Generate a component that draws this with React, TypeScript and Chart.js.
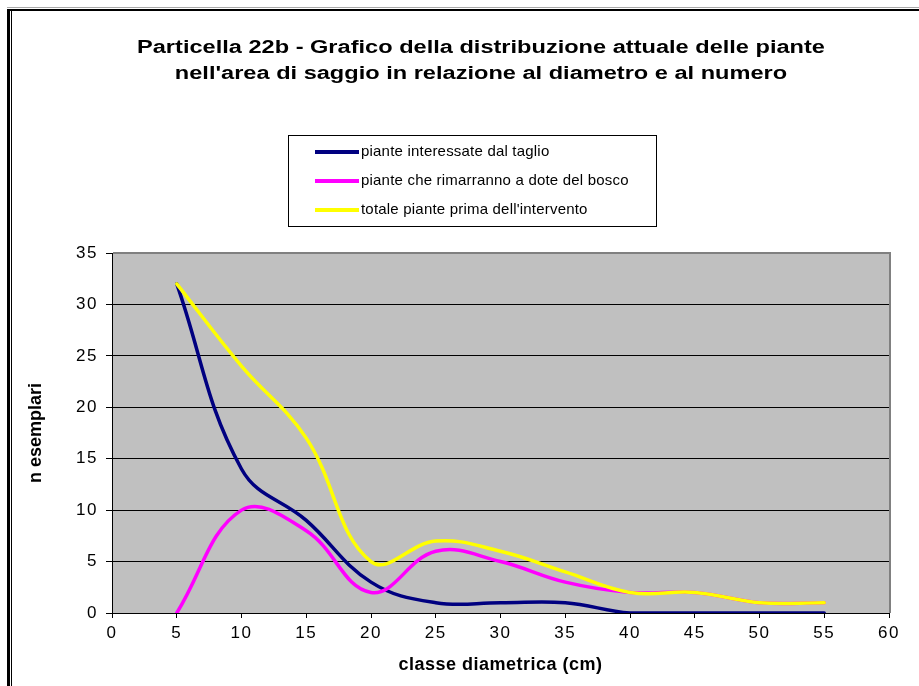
import React, { useEffect, useRef } from "react";
import { Chart, registerables } from "chart.js";

Chart.register(...registerables);

// ---- data ----
const titleLines = [
  "Particella 22b - Grafico della distribuzione attuale delle piante",
  "nell'area di saggio in relazione al diametro e al numero",
];
const xAxisTitle = "classe diametrica (cm)";
const yAxisTitle = "n esemplari";
const diameterClasses = [5, 10, 15, 20, 25, 30, 35, 40, 45, 50, 55];
const pianteTaglio = [32, 14, 9, 3, 1, 1, 1, 0, 0, 0, 0];
const pianteRimanenti = [0, 10, 8, 2, 6, 5, 3, 2, 2, 1, 1];
const pianteTotali = [32, 24, 17, 5, 7, 6, 4, 2, 2, 1, 1];
const seriesNames = [
  "piante interessate dal taglio",
  "piante che rimarranno a dote del bosco",
  "totale piante prima dell'intervento",
];
const seriesColors = ["#000080", "#FF00FF", "#FFFF00"];
const xTicksRange = { min: 0, max: 60, step: 5 };
const yTicksRange = { min: 0, max: 35, step: 5 };

const FONT = '"Liberation Sans", Arial, Helvetica, sans-serif';
const W = 919;
const H = 686;

const toPoints = (ys: number[]) => diameterClasses.map((x, i) => ({ x, y: ys[i] }));

const decorPlugin = {
  id: "decor",
  beforeDraw(chart: any) {
    const { ctx, chartArea: a } = chart;
    // letter spacing for axis texts (the reference text is drawn wide)
    Object.values(chart.scales).forEach((s: any) => {
      if (s.__spaced) return;
      s.__spaced = true;
      const dl = s.drawLabels;
      const dt = s.drawTitle;
      s.drawLabels = function (ca: any) {
        const c = this.ctx;
        c.save();
        c.letterSpacing = "1.5px";
        dl.call(this, ca);
        c.restore();
      };
      s.drawTitle = function () {
        const c = this.ctx;
        c.save();
        c.letterSpacing = this.axis === "x" ? "0.5px" : "0px";
        dt.call(this);
        c.restore();
      };
    });
    ctx.save();
    ctx.fillStyle = "#ffffff";
    ctx.fillRect(0, 0, chart.width, chart.height);
    // outer frame
    ctx.fillStyle = "#a8a8a8";
    ctx.fillRect(7, 7, chart.width - 7, 1);
    ctx.fillStyle = "#000000";
    ctx.fillRect(7, 9, chart.width - 7, 2);
    ctx.fillRect(7, 9, 3, chart.height - 9);
    ctx.fillRect(11, 11, 1, chart.height - 11);
    // plot area background
    ctx.fillStyle = "#C0C0C0";
    ctx.fillRect(a.left, a.top, a.right - a.left, a.bottom - a.top);
    ctx.restore();
  },
  beforeDatasetsDraw(chart: any) {
    const { ctx, chartArea: a } = chart;
    ctx.save();
    ctx.strokeStyle = "#808080";
    ctx.lineWidth = 2;
    ctx.beginPath();
    ctx.moveTo(a.left + 1, a.top);
    ctx.lineTo(a.right + 1, a.top);
    ctx.lineTo(a.right + 1, a.bottom);
    ctx.stroke();
    ctx.restore();
  },
  afterDraw(chart: any) {
    const { ctx } = chart;
    ctx.save();
    // title
    ctx.fillStyle = "#000";
    ctx.font = `bold 18px ${FONT}`;
    ctx.textAlign = "center";
    ctx.textBaseline = "alphabetic";
    titleLines.forEach((t, i) => {
      ctx.save();
      ctx.translate(481, 53 + i * 26);
      ctx.scale(1.31, 1);
      ctx.fillText(t, 0, 0);
      ctx.restore();
    });
    // legend
    const bx = 288.5, by = 135.5, bw = 368, bh = 91;
    ctx.fillStyle = "#ffffff";
    ctx.fillRect(bx, by, bw, bh);
    ctx.strokeStyle = "#000";
    ctx.lineWidth = 1;
    ctx.strokeRect(bx, by, bw, bh);
    ctx.font = `15px ${FONT}`;
    ctx.letterSpacing = "0.2px";
    ctx.textAlign = "left";
    ctx.textBaseline = "middle";
    chart.data.datasets.forEach((ds: any, i: number) => {
      const y = 152 + i * 29;
      ctx.strokeStyle = ds.borderColor;
      ctx.lineWidth = 4;
      ctx.lineCap = "butt";
      ctx.beginPath();
      ctx.moveTo(315, y);
      ctx.lineTo(359, y);
      ctx.stroke();
      ctx.fillStyle = "#000";
      ctx.fillText(ds.label, 361, y);
    });
    ctx.restore();
  },
};

export default function App() {
  const ref = useRef<HTMLCanvasElement | null>(null);
  useEffect(() => {
    if (!ref.current) return;
    const lineDs = (label: string, data: number[], color: string, order: number) => ({
      label,
      data: toPoints(data),
      borderColor: color,
      backgroundColor: color,
      borderWidth: 3.5,
      pointRadius: 0,
      pointHoverRadius: 0,
      tension: 0.4,
      fill: false,
      borderCapStyle: "round" as const,
      borderJoinStyle: "round" as const,
      order,
    });
    const chart = new Chart(ref.current, {
      type: "line",
      data: {
        datasets: [
          lineDs(seriesNames[0], pianteTaglio, seriesColors[0], 3),
          lineDs(seriesNames[1], pianteRimanenti, seriesColors[1], 2),
          lineDs(seriesNames[2], pianteTotali, seriesColors[2], 1),
        ],
      },
      options: {
        animation: false,
        responsive: false,
        maintainAspectRatio: false,
        layout: { padding: { top: 253, right: 30, bottom: 0, left: 18 } },
        plugins: {
          legend: { display: false },
          title: { display: false },
          tooltip: { enabled: false },
        },
        scales: {
          x: {
            type: "linear",
            min: xTicksRange.min,
            max: xTicksRange.max,
            afterFit: (s: any) => {
              s.height = 73;
            },
            ticks: {
              stepSize: xTicksRange.step,
              color: "#000",
              padding: 7,
              font: { family: FONT, size: 17, lineHeight: 1 },
              maxRotation: 0,
            },
            grid: {
              drawOnChartArea: false,
              drawTicks: true,
              tickLength: 5,
              color: "#000",
            },
            border: { display: true, color: "#000", width: 1 },
            title: {
              display: true,
              text: xAxisTitle,
              color: "#000",
              font: { family: FONT, size: 18, weight: "bold" },
              padding: { top: 0, bottom: 10 },
            },
          },
          y: {
            type: "linear",
            min: yTicksRange.min,
            max: yTicksRange.max,
            afterFit: (s: any) => {
              s.width = 94;
            },
            ticks: {
              stepSize: yTicksRange.step,
              color: "#000",
              padding: 8,
              font: { family: FONT, size: 17 },
            },
            grid: {
              color: (c: any) => (c.tick && c.tick.value === yTicksRange.max ? "#808080" : "#000"),
              tickColor: "#000",
              tickLength: 6,
              lineWidth: 1,
            },
            border: { display: true, color: "#000", width: 1 },
            title: {
              display: true,
              text: yAxisTitle,
              color: "#000",
              font: { family: FONT, size: 18, weight: "bold" },
              padding: { top: 7, bottom: 0 },
            },
          },
        },
      },
      plugins: [decorPlugin],
    });
    return () => chart.destroy();
  }, []);
  return (
    <div style={{ position: "absolute", left: 0, top: 0, width: W, height: H }}>
      <canvas ref={ref} width={W} height={H} style={{ width: W, height: H, display: "block" }} />
    </div>
  );
}
